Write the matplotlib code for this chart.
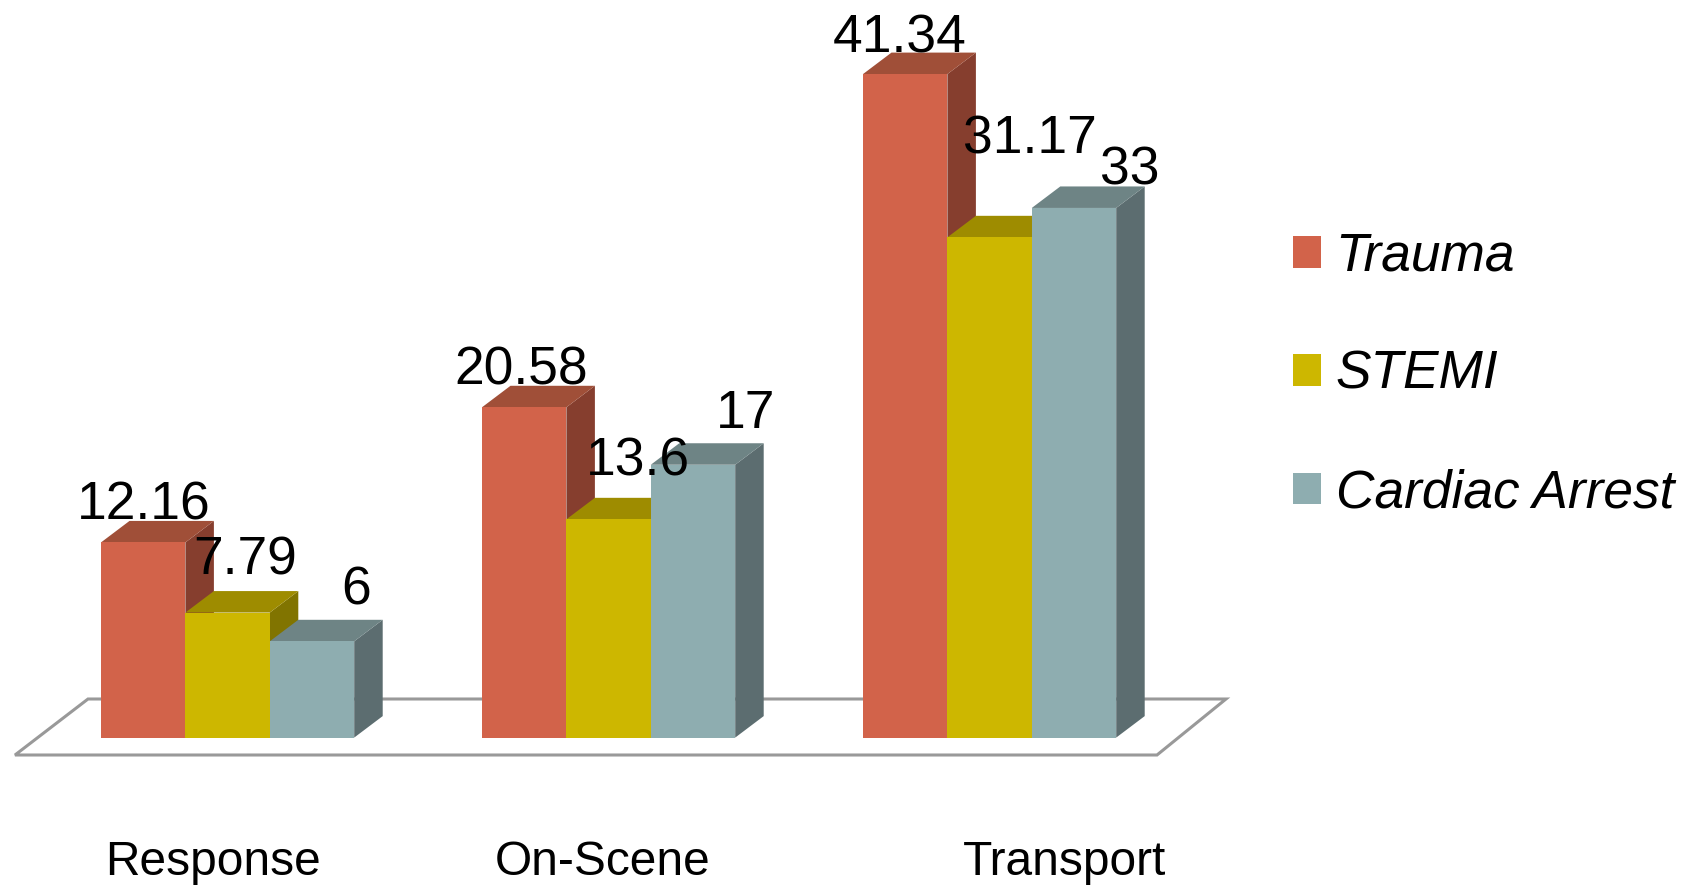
# plot.py
import matplotlib
matplotlib.use("Agg")
import matplotlib.pyplot as plt
from matplotlib.patches import Patch, Polygon

plt.rcParams['font.family'] = ['Liberation Sans', 'DejaVu Sans']

categories = ["Response", "On-Scene", "Transport"]
series_names = ["Trauma", "STEMI", "Cardiac Arrest"]
trauma = [12.16, 20.58, 41.34]
stemi = [7.79, 13.6, 31.17]
cardiac_arrest = [6, 17, 33]
series_values = [trauma, stemi, cardiac_arrest]

# face, side, top
series_colors = [
    ("#D2634A", "#863E2E", "#A04F38"),
    ("#CDB700", "#817400", "#9E8C00"),
    ("#8EADB0", "#5C6D70", "#6E8485"),
]

# layout, all in pixels of the 1694x885 picture
W, H = 1694, 885
PX_GROUP = 381.0
PX_VALUE = 16.05
LEFT = 101
BASE = 737.6
BAR_PX = 84.4
DEPTH_X_PX = 28.5
DEPTH_Y_PX = 21.5

# the labels were hand placed in the original: offset from the bar's back top
label_dx = [[1, 18, 44], [-3, 29, 53], [-6, 40, 56]]
label_dy = [[1, 17, 15], [1, 22, 15], [0, 62, 2]]
category_dx = [-15, -6, 75]

fig = plt.figure(figsize=(W / 100, H / 100), dpi=100)
ax = fig.add_axes([0, 0, 1, 1])
ax.set_xlim(-LEFT / PX_GROUP, (W - LEFT) / PX_GROUP)
ax.set_ylim(-(H - BASE) / PX_VALUE, BASE / PX_VALUE)
ax.axis('off')

bar_w = BAR_PX / PX_GROUP
depth_x = DEPTH_X_PX / PX_GROUP
depth_y = DEPTH_Y_PX / PX_VALUE


def px_x(p):
    return (p - LEFT) / PX_GROUP


def px_y(p):
    return (BASE - p) / PX_VALUE


# floor
floor = Polygon([(px_x(15), px_y(755)), (px_x(88), px_y(699)),
                 (px_x(1226), px_y(699)), (px_x(1157), px_y(755))],
                closed=True, facecolor='white', edgecolor='#999999', linewidth=2.2, zorder=1)
ax.add_patch(floor)

# bars, left to right so each one covers the side of the one before
for g in range(len(categories)):
    for s, values in enumerate(series_values):
        v = values[g]
        x0 = g + s * bar_w
        x1 = x0 + bar_w
        face, side, top = series_colors[s]
        z = 2 + s
        ax.bar(x0, v, width=bar_w, align='edge', color=face, linewidth=0, zorder=z + 0.5)
        ax.add_patch(Polygon([(x1, 0), (x1 + depth_x, depth_y), (x1 + depth_x, v + depth_y), (x1, v)],
                             closed=True, facecolor=side, linewidth=0, zorder=z))
        ax.add_patch(Polygon([(x0, v), (x0 + depth_x, v + depth_y), (x1 + depth_x, v + depth_y), (x1, v)],
                             closed=True, facecolor=top, linewidth=0, zorder=z))

for g in range(len(categories)):
    for s, values in enumerate(series_values):
        v = values[g]
        xc = g + (s + 0.5) * bar_w + label_dx[g][s] / PX_GROUP
        y = v + depth_y + label_dy[g][s] / PX_VALUE
        ax.text(xc, y, str(v), ha='center', va='baseline', fontsize=38.4, color='black', zorder=10)

    xc = g + 1.5 * bar_w + category_dx[g] / PX_GROUP
    ax.text(xc, px_y(875), categories[g], ha='center', va='baseline', fontsize=34.5, color='black')

handles = [Patch(facecolor=series_colors[i][0], linewidth=0) for i in range(3)]
ax.legend(handles, series_names, loc='center left', bbox_to_anchor=(1293 / W, 1 - 375 / H),
          frameon=False, prop={'style': 'italic', 'size': 38.3},
          handlelength=0.53, handleheight=0.53, handletextpad=0.27,
          labelspacing=1.28, borderpad=0, borderaxespad=0)

fig.savefig("out.png", dpi=100)
